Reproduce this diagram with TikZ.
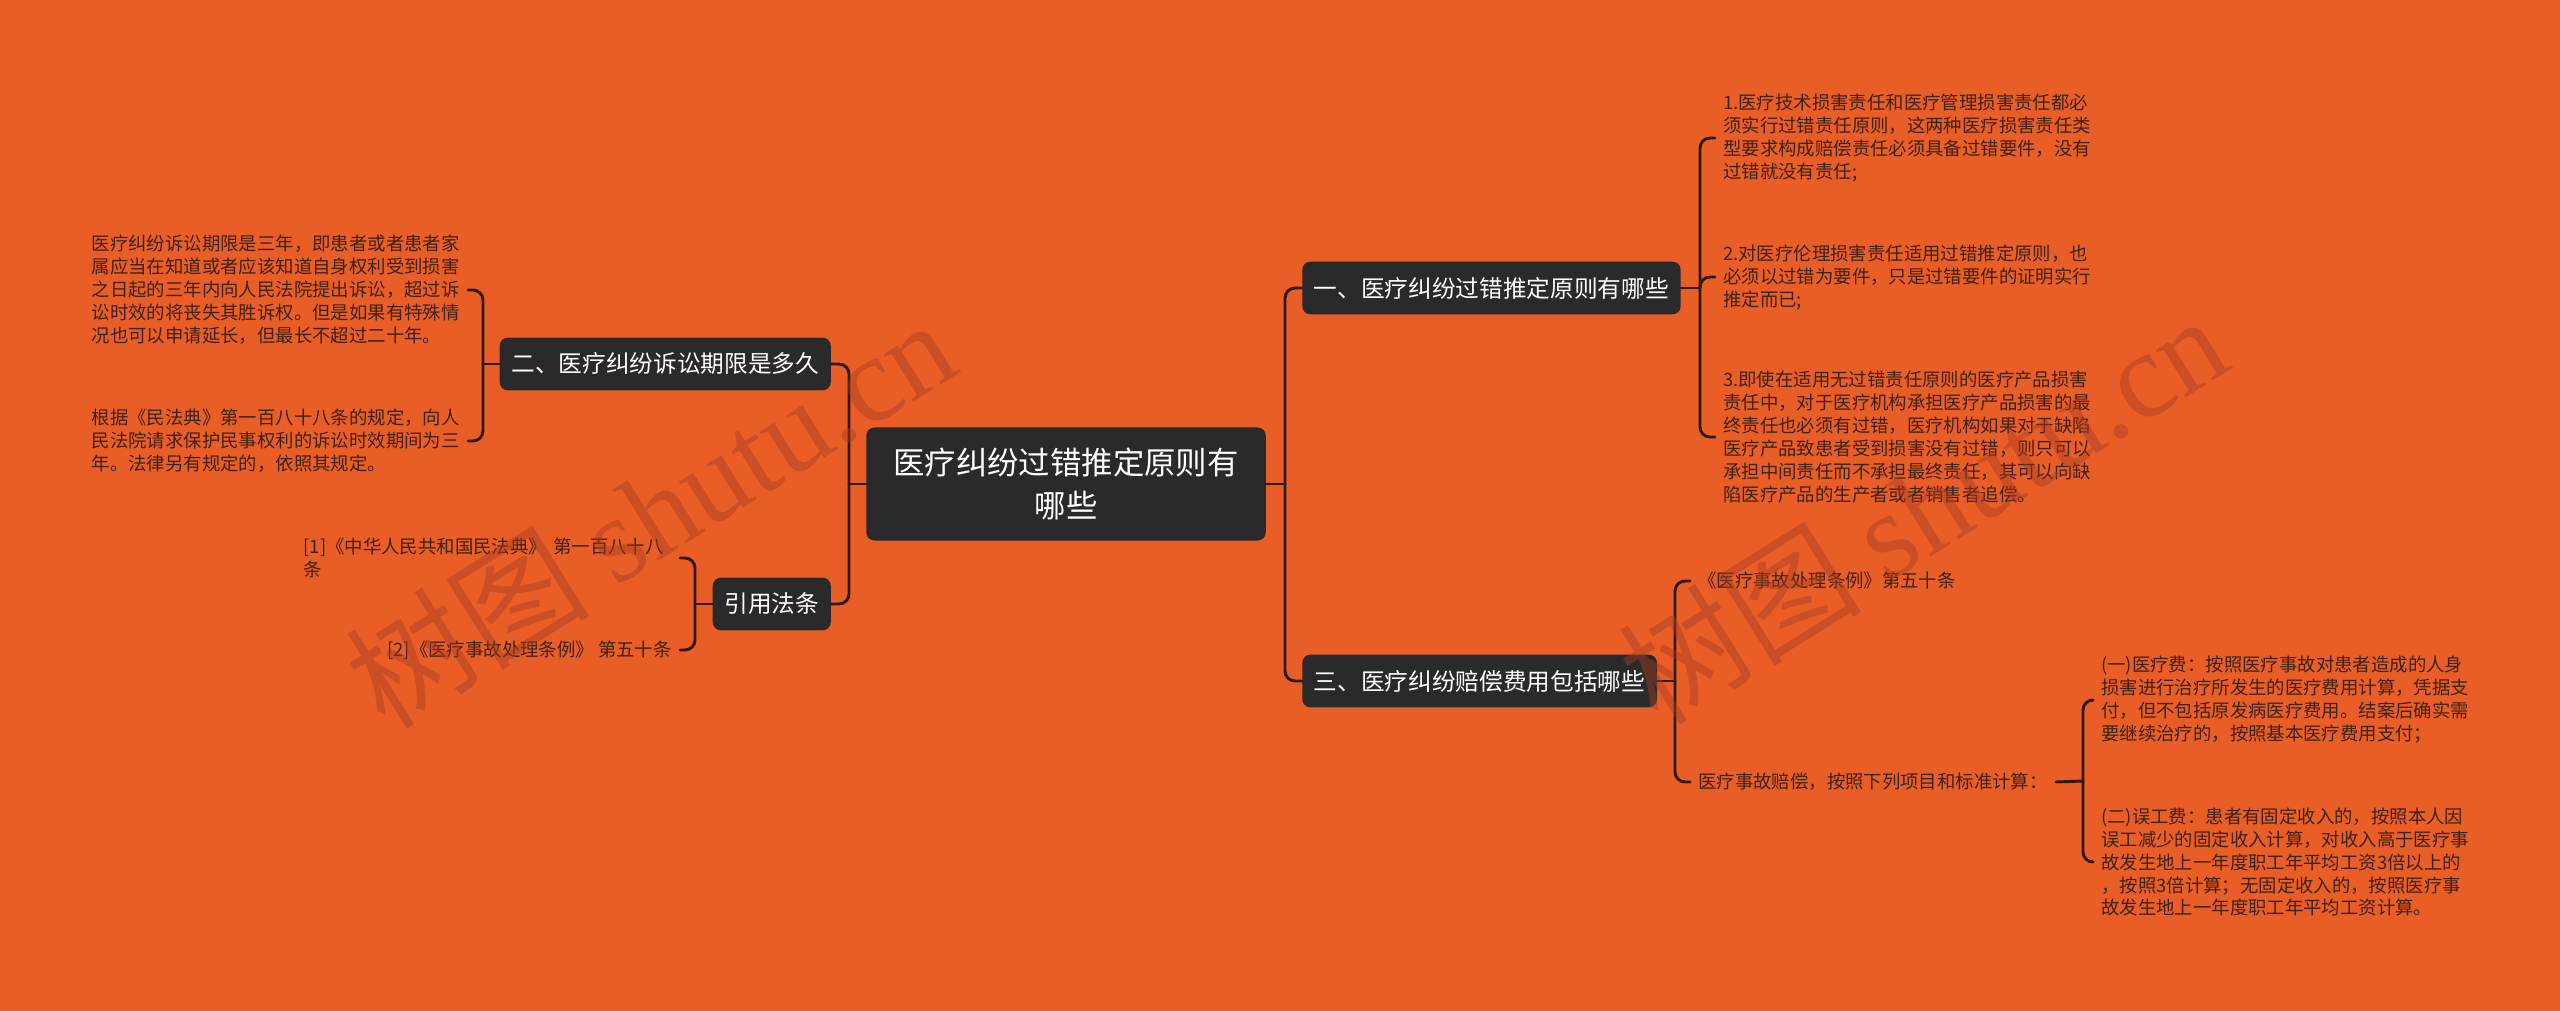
\documentclass[tikz,border=0pt]{standalone}
\usepackage{fontspec}
\setmainfont{Noto Sans CJK SC}
\newfontfamily\wmfont{Liberation Serif}
\usetikzlibrary{calc}

\begin{document}
\begin{tikzpicture}[x=0.03cm,y=-0.03cm,line cap=round,line join=round]
  % ----- styles & colors -----
  \definecolor{bg}{RGB}{233,93,39}
  \definecolor{boxfill}{RGB}{42,42,42}
  \definecolor{wire}{RGB}{48,26,16}
  \definecolor{leaftext}{RGB}{62,34,20}
  \definecolor{wmcolor}{RGB}{170,60,35}
  \tikzset{
    topic/.style={fill=boxfill,text=white,rounded corners=7pt,inner xsep=10pt,minimum height=45pt,
      font=\fontsize{20.2}{24}\selectfont},
    rootbox/.style={topic,minimum width=341pt,minimum height=96.5pt,align=center,
      font=\fontsize{26.8}{35.9}\selectfont},
    leaf/.style={text=leaftext,align=left,inner xsep=0.24cm,inner ysep=0pt,
      font=\fontsize{15.7}{19.6}\selectfont},
    wideleaf/.style={leaf,text width=11.04cm},
    link/.style={draw=wire,line width=2.5pt,rounded corners=0.3cm},
    watermark/.style={text=wmcolor,opacity=0.45,rotate=32,font=\fontsize{104}{104}\selectfont}
  }

  % ----- canvas -----
  \useasboundingbox (0,0) rectangle (2560,1011);
  \fill[bg] (0,0) rectangle (2560,1011);

  % ----- topics -----
  \node[rootbox] (root) at (1066,484) {医疗纠纷过错推定原则有\\哪些};
  \node[topic,anchor=west] (t1) at (1302,288) {一、医疗纠纷过错推定原则有哪些};
  \node[topic,anchor=west] (t3) at (1302,681) {三、医疗纠纷赔偿费用包括哪些};
  \node[topic,anchor=east] (t2) at (831,364) {二、医疗纠纷诉讼期限是多久};
  \node[topic,anchor=east] (t4) at (831,604) {引用法条};

  % ----- junctions -----
  \coordinate (JR) at (1285,484);
  \coordinate (JL) at (849,484);
  \coordinate (J1) at (1700,288);
  \coordinate (J3) at (1675,681);
  \coordinate (J2) at (483,364);
  \coordinate (J4) at (695,604);
  \coordinate (J5) at (2083,781);

  % ----- leaves, right -----
  \node[leaf,anchor=west] (L1a) at (1715,138) {1.医疗技术损害责任和医疗管理损害责任都必\\须实行过错责任原则，这两种医疗损害责任类\\型要求构成赔偿责任必须具备过错要件，没有\\过错就没有责任;};
  \node[leaf,anchor=west] (L1b) at (1715,277) {2.对医疗伦理损害责任适用过错推定原则，也\\必须以过错为要件，只是过错要件的证明实行\\推定而已;};
  \node[leaf,anchor=west] (L1c) at (1715,437) {3.即使在适用无过错责任原则的医疗产品损害\\责任中，对于医疗机构承担医疗产品损害的最\\终责任也必须有过错，医疗机构如果对于缺陷\\医疗产品致患者受到损害没有过错，则只可以\\承担中间责任而不承担最终责任，其可以向缺\\陷医疗产品的生产者或者销售者追偿。};
  \node[leaf,anchor=west] (L3a) at (1690,581) {《医疗事故处理条例》第五十条};
  \node[leaf,anchor=west] (L3b) at (1690,782) {医疗事故赔偿，按照下列项目和标准计算：};
  \node[leaf,anchor=west] (L3c) at (2093,700) {(一)医疗费：按照医疗事故对患者造成的人身\\损害进行治疗所发生的医疗费用计算，凭据支\\付，但不包括原发病医疗费用。结案后确实需\\要继续治疗的，按照基本医疗费用支付；};
  \node[leaf,anchor=west] (L3d) at (2093,862) {(二)误工费：患者有固定收入的，按照本人因\\误工减少的固定收入计算，对收入高于医疗事\\故发生地上一年度职工年平均工资3倍以上的\\，按照3倍计算；无固定收入的，按照医疗事\\故发生地上一年度职工年平均工资计算。};

  % ----- leaves, left -----
  \node[wideleaf,anchor=east] (L2a) at (468,290) {医疗纠纷诉讼期限是三年，即患者或者患者家\\属应当在知道或者应该知道自身权利受到损害\\之日起的三年内向人民法院提出诉讼，超过诉\\讼时效的将丧失其胜诉权。但是如果有特殊情\\况也可以申请延长，但最长不超过二十年。};
  \node[wideleaf,anchor=east] (L2b) at (468,441) {根据《民法典》第一百八十八条的规定，向人\\民法院请求保护民事权利的诉讼时效期间为三\\年。法律另有规定的，依照其规定。};
  \node[wideleaf,anchor=east] (L4a) at (680,558) {[1]《中华人民共和国民法典》 第一百八十八\\条};
  \node[leaf,anchor=east] (L4b) at (680,650) {[2]《医疗事故处理条例》 第五十条};

  % ----- connectors -----
  \draw[link] (root.east) -- (JR);
  \draw[link] (root.west) -- (JL);
  \foreach \T in {t1,t3}{
    \draw[link] (JR) |- (\T.west);
  }
  \foreach \T in {t2,t4}{
    \draw[link] (JL) |- (\T.east);
  }

  \draw[link] (t1.east) -- (J1);
  \foreach \L in {L1a,L1b,L1c}{
    \draw[link] (J1) |- (\L.west);
  }
  \draw[link] (t3.east) -- (J3);
  \foreach \L in {L3a,L3b}{
    \draw[link] (J3) |- (\L.west);
  }
  \draw[link] (L3b.east) -- (J5);
  \foreach \L in {L3c,L3d}{
    \draw[link] (J5) |- (\L.west);
  }

  \draw[link] (t2.west) -- (J2);
  \foreach \L in {L2a,L2b}{
    \draw[link] (J2) |- (\L.east);
  }
  \draw[link] (t4.west) -- (J4);
  \foreach \L in {L4a,L4b}{
    \draw[link] (J4) |- (\L.east);
  }

  % ----- watermark -----
  \node[watermark] (wm1) at (650,512) {树图 {\wmfont shutu.cn}};
  \node[watermark] (wm2) at (1922,508) {树图 {\wmfont shutu.cn}};
\end{tikzpicture}
\end{document}
